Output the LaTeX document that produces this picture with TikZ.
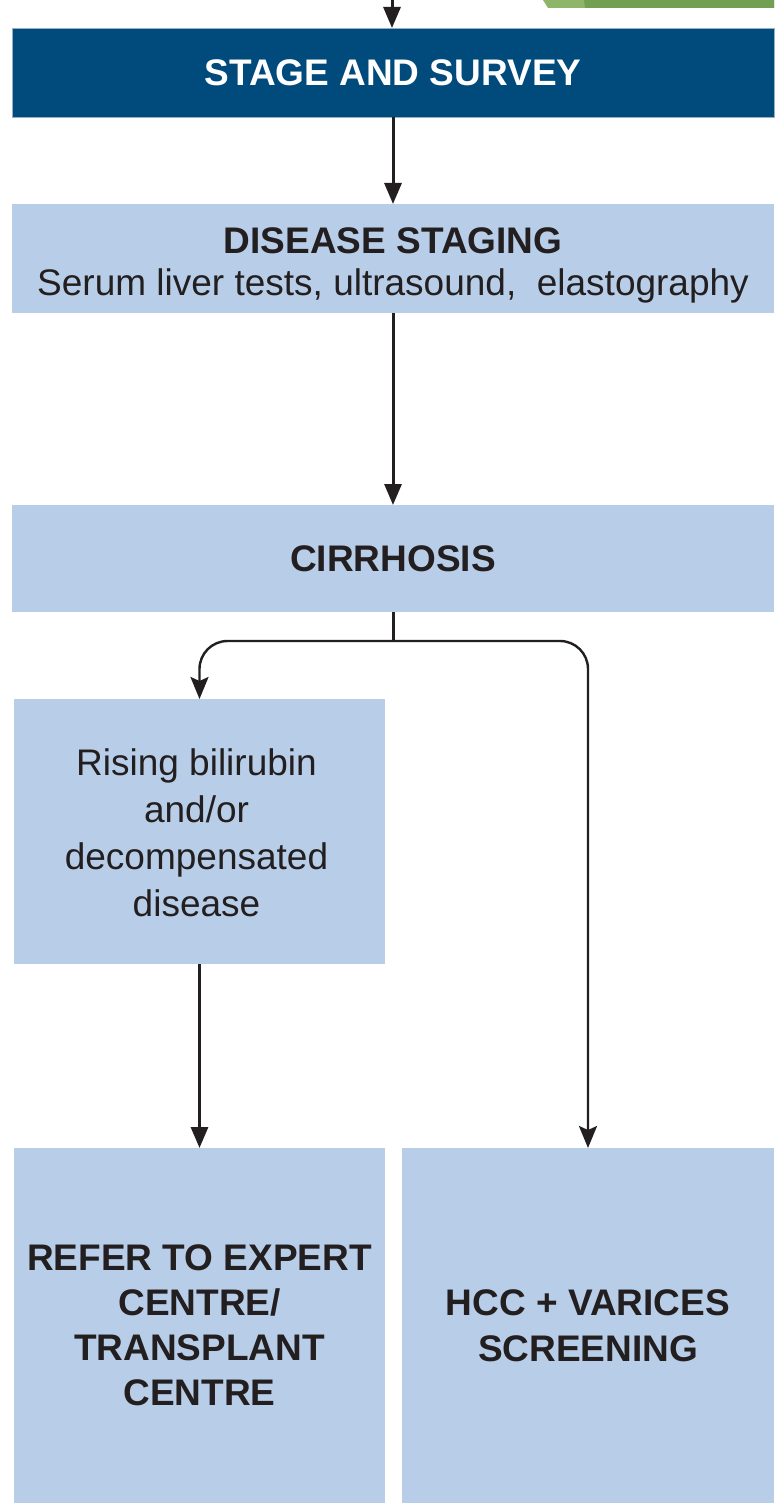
\documentclass[tikz,border=0pt]{standalone}
\usepackage{fontspec}
\setmainfont{Liberation Sans}
\usetikzlibrary{arrows.meta}
\definecolor{navy}{RGB}{0,74,124}
\definecolor{navyedge}{RGB}{150,175,196}
\definecolor{pale}{RGB}{184,206,232}
\definecolor{ink}{RGB}{35,31,32}
\definecolor{lgreen}{RGB}{141,182,106}
\definecolor{dgreen}{RGB}{112,160,80}
\begin{document}
\begin{tikzpicture}[x=1pt,y=-1pt,
  boxbase/.style={rectangle, inner sep=0pt, outer sep=0pt, align=center, text=ink,
    font=\fontsize{37}{45}\selectfont},
  darkbox/.style={boxbase, fill=navy, draw=navyedge, line width=0.8pt, text=white,
    font=\fontsize{37}{45}\selectfont\bfseries},
  palebox/.style={boxbase, fill=pale},
  boldtext/.style={font=\fontsize{37}{45}\selectfont\bfseries},
  conn/.style={draw=ink, line width=3pt, -{Triangle[length=21pt,width=17pt]}},
  branch/.style={draw=ink, line width=2.4pt, rounded corners=28pt,
    -{Stealth[length=22pt,width=18pt,inset=4pt]}},
  stem/.style={draw=ink, line width=3pt}]
\useasboundingbox (0,0) rectangle (774,1503);

% green shape at top right
\fill[lgreen] (543,0) -- (548,8) -- (774,8) -- (774,0) -- cycle;
\fill[dgreen] (584,0) -- (585,8) -- (774,8) -- (774,0) -- cycle;

% boxes
\node[darkbox, minimum width=762pt, minimum height=89pt] (survey) at (393,72.5) {STAGE AND SURVEY};
\node[palebox, minimum width=762pt, minimum height=109pt] (staging) at (393,258.5) {};
\node[boxbase, font=\fontsize{37}{42}\selectfont] (stagingtext) at (393,265)
  {{\bfseries DISEASE STAGING}\\Serum liver tests, ultrasound,\ \ elastography};
\node[palebox, boldtext, minimum width=762pt, minimum height=107pt] (cirr) at (393,558.5) {CIRRHOSIS};
\node[palebox, minimum width=371pt, minimum height=265pt] (rising) at (199.5,831.5) {};
\node[boxbase, font=\fontsize{37}{47}\selectfont] (risingtext) at (196.5,833)
  {Rising bilirubin\\and/or\\decompensated\\disease};
\node[palebox, boldtext, minimum width=371pt, minimum height=355pt] (refer) at (199.5,1325.5)
  {REFER TO EXPERT\\CENTRE/\\TRANSPLANT\\CENTRE};
\node[palebox, minimum width=372pt, minimum height=355pt, font=\fontsize{37}{46}\selectfont\bfseries] (hcc) at (588,1325.5)
  {HCC + VARICES\\SCREENING};

% connectors
\coordinate (top) at (392,0);
\draw[conn] (top) -- (top |- survey.north);
\draw[conn] (survey.south) -- (staging.north);
\draw[conn] (staging.south) -- (cirr.north);
\draw[stem] (cirr.south) -- ++(0,29) coordinate (split);
\draw[branch] (split) -| (rising.north);
\draw[branch] (split) -| (hcc.north);
\draw[conn] (rising.south) -- (refer.north);
\end{tikzpicture}
\end{document}
